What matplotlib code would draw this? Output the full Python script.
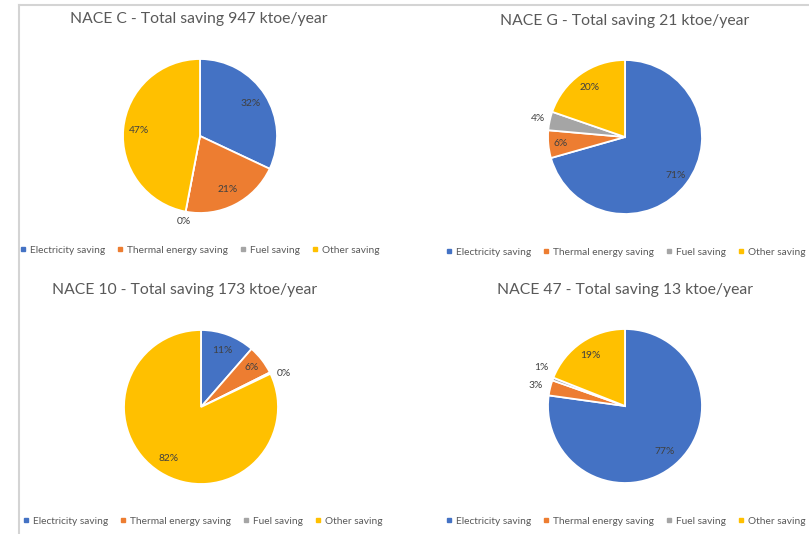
import matplotlib
matplotlib.use("Agg")
import matplotlib.pyplot as plt
import numpy as np
from matplotlib.lines import Line2D

plt.rcParams['font.family'] = ['Lato', 'DejaVu Sans']

categories = ["Electricity saving", "Thermal energy saving", "Fuel saving", "Other saving"]
colors = ["#4472C4", "#ED7D31", "#A5A5A5", "#FFC000"]

titles = ["NACE C - Total saving 947 ktoe/year",
          "NACE G - Total saving 21 ktoe/year",
          "NACE 10 - Total saving 173 ktoe/year",
          "NACE 47 - Total saving 13 ktoe/year"]

# shares in percent (Electricity, Thermal, Fuel, Other)
nace_c = [32.0, 21.0, 0.0, 47.0]
nace_g = [70.6, 5.8, 3.9, 19.7]
nace_10 = [11.4, 6.2, 0.3, 82.1]
nace_47 = [77.2, 3.2, 0.6, 19.0]
series = [nace_c, nace_g, nace_10, nace_47]

W, H = 809, 534
DPI = 100
fig = plt.figure(figsize=(W / DPI, H / DPI), dpi=DPI)
fig.patch.set_facecolor("white")

# layout (pixels): pie center, radius, title center, legend left/y
panels = [
    dict(c=(200, 136), r=77, t=(199, 19), lg=(20, 250), ld=[0.78, 0.78, 1.13, 0.79]),
    dict(c=(625, 137), r=77, t=(625, 21), lg=(446, 252), ld=[0.82, 0.84, 1.15, 0.79]),
    dict(c=(201, 407), r=77, t=(185, 290), lg=(23, 521), ld=[0.79, 0.83, 1.16, 0.79]),
    dict(c=(625, 406), r=77, t=(625, 290), lg=(446, 521), ld=[0.79, 1.19, 1.20, 0.80]),
]
angle_nudge = [
    [0, 0, 0, 0],
    [0, 0, 0, 0],
    [0, 0, -4, 0],
    [0, 1, -4, 0],
]

def fx(x):
    return x / W

def fy(y):
    return 1 - y / H

for i, (p, vals) in enumerate(zip(panels, series)):
    cx, cy = p["c"]
    r = p["r"]
    ax = fig.add_axes([fx(cx - r), fy(cy + r), 2 * r / W, 2 * r / H])
    vplot = [v if v > 0 else 1e-6 for v in vals]
    wedges, _ = ax.pie(vplot, colors=colors, startangle=90, counterclock=False,
                       radius=1.0, wedgeprops=dict(edgecolor="white", linewidth=1.3))
    ax.set_xlim(-1, 1)
    ax.set_ylim(-1, 1)
    ax.set_aspect("auto")
    ax.axis("off")
    for j, (w, v) in enumerate(zip(wedges, vals)):
        ang = np.deg2rad((w.theta1 + w.theta2) / 2 + angle_nudge[i][j])
        d = p["ld"][j]
        ax.text(d * np.cos(ang), d * np.sin(ang), f"{v:.0f}%", ha="center", va="center",
                fontsize=7.4, color="#404040", clip_on=False)
    tx, ty = p["t"]
    fig.text(fx(tx), fy(ty), titles[i], ha="center", va="center", fontsize=11.3, color="#595959")
    lx, ly = p["lg"]
    handles = [Line2D([], [], linestyle="none", marker="s", markersize=3.2,
                      markerfacecolor=col, markeredgecolor=col) for col in colors]
    fig.legend(handles, categories, loc="center left", bbox_to_anchor=(fx(lx), fy(ly)),
               ncol=4, frameon=False, fontsize=7.25, labelcolor="#595959",
               handlelength=0.6, handletextpad=0.4, columnspacing=1.2,
               borderaxespad=0, borderpad=0)

# frame lines of the screenshot
fig.add_artist(Line2D([fx(19), fx(19)], [fy(5), fy(534)], color="#D4D4D4", linewidth=1.5))
fig.add_artist(Line2D([fx(19), fx(809)], [fy(5), fy(5)], color="#D4D4D4", linewidth=1.5))

fig.savefig("out.png", dpi=DPI)
